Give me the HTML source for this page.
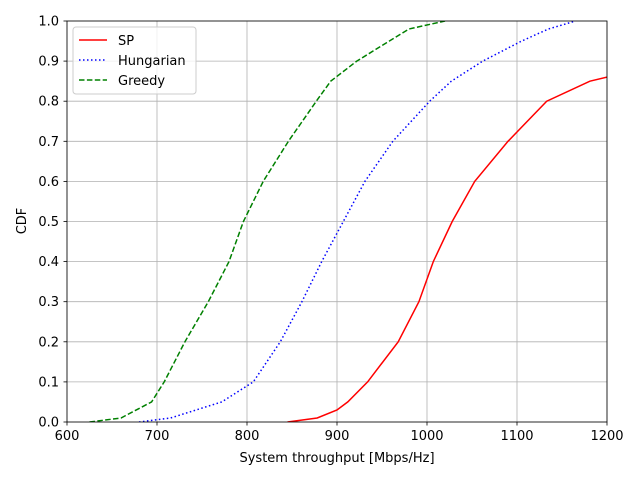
<!DOCTYPE html>
<html><head><meta charset="utf-8"><style>
body{margin:0;background:#fff;}
svg{display:block;font-family:"DejaVu Sans","Liberation Sans",sans-serif;}
</style></head><body>
<svg id="chart" width="640" height="480">
<defs><clipPath id="clip"><rect x="67" y="21" width="540" height="401"/></clipPath></defs>
<rect x="0" y="0" width="640" height="480" fill="#fff"/>
<g id="grid"></g>
<g id="series" clip-path="url(#clip)"></g>
<rect x="67" y="21" width="540" height="401" fill="none" stroke="#000" stroke-width="0.8"/>
<g id="axes"></g>
<text x="337" y="462" font-size="13" text-anchor="middle">System throughput [Mbps/Hz]</text>
<text x="26" y="221" font-size="13" text-anchor="middle" transform="rotate(-90 26 221)">CDF</text>
<g>
<rect x="73" y="27" width="123" height="67" rx="3" fill="#fff" fill-opacity="0.8" stroke="#ccc"/>
<g><line x1="79" y1="40" x2="107" y2="40" stroke="red" stroke-width="1.5"/><text x="118" y="45" font-size="13">SP</text></g>
<g><line x1="79" y1="60" x2="107" y2="60" stroke="blue" stroke-width="1.5" stroke-dasharray="1.5,2.5"/><text x="118" y="65" font-size="13">Hungarian</text></g>
<g><line x1="79" y1="80" x2="107" y2="80" stroke="green" stroke-width="1.5" stroke-dasharray="5.5,2.4"/><text x="118" y="85" font-size="13">Greedy</text></g>
</g>
</svg>
<script>
const xTicks=[600,700,800,900,1000,1100,1200];
const yTicks=[0,0.1,0.2,0.3,0.4,0.5,0.6,0.7,0.8,0.9,1.0];
const cdfLevels=[0,0.01,0.05,0.1,0.2,0.3,0.4,0.5,0.6,0.7,0.8,0.85,0.9,0.95,0.98,1.0];
const greedyX=[625,660,694,708,731,757,780,796,818,846,877,893,922,958,980,1020];
const hungarianX=[680,715,772,807,837,861,883,907,931,962,1003,1027,1062,1105,1135,1165];
const spLevels=[0,0.01,0.03,0.05,0.1,0.2,0.3,0.4,0.5,0.6,0.7,0.8,0.85,0.86];
const spX=[845,878,900,912,934,968,991,1007,1028,1053,1090,1133,1181,1200];
const NS="http://www.w3.org/2000/svg";
const X=v=>67+(v-600)*540/600, Y=v=>422-v*401;
const grid=document.getElementById('grid'),axes=document.getElementById('axes'),ser=document.getElementById('series');
function mk(tag,attrs,parent){const e=document.createElementNS(NS,tag);for(const k in attrs)e.setAttribute(k,attrs[k]);parent.appendChild(e);return e;}
xTicks.forEach(t=>{
 const g=mk('line',{x1:X(t),x2:X(t),y1:21,y2:422,stroke:'#b0b0b0','stroke-width':0.8},grid);
 
 
 mk('line',{x1:X(t),x2:X(t),y1:422,y2:425.5,stroke:'#000','stroke-width':0.8},axes);
 const tx=mk('text',{x:X(t),y:440,'font-size':13,'text-anchor':'middle'},axes);tx.textContent=t;
 
 
});
yTicks.forEach(t=>{
 const g=mk('line',{x1:67,x2:607,y1:Y(t),y2:Y(t),stroke:'#b0b0b0','stroke-width':0.8},grid);
 
 
 mk('line',{x1:63.5,x2:67,y1:Y(t),y2:Y(t),stroke:'#000','stroke-width':0.8},axes);
 const tx=mk('text',{x:59,y:Y(t)+4.5,'font-size':13,'text-anchor':'end'},axes);tx.textContent=t.toFixed(1);
 
 
});
function line(xs,ys,color,dash,name){
 const pts=xs.map((x,i)=>X(x).toFixed(1)+','+Y(ys[i]).toFixed(1)).join(' ');
 const p=mk('polyline',{points:pts,fill:'none',stroke:color,'stroke-width':1.5},ser);
 if(dash)p.setAttribute('stroke-dasharray',dash);
 
 
}
line(spX,spLevels,'red',null,'sp-cdf-line');
line(hungarianX,cdfLevels,'blue','1.5,2.5','hungarian-cdf-line');
line(greedyX,cdfLevels,'green','5.5,2.4','greedy-cdf-line');
</script>
</body></html>
